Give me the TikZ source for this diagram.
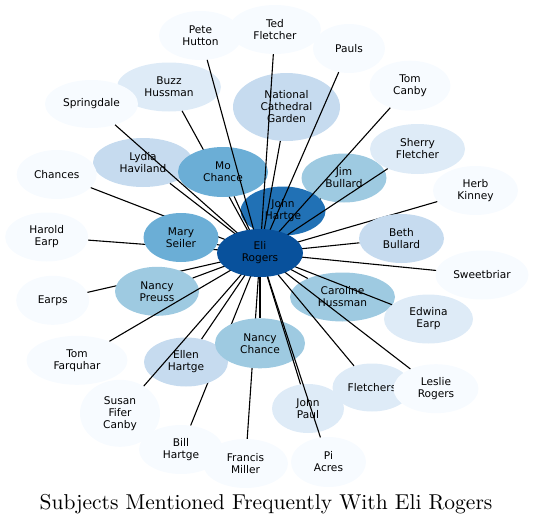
\documentclass[tikz,border=0pt]{standalone}
\usepackage{fontspec}
\newfontfamily\dejavu{DejaVu Sans}
\newfontfamily\titlefont{lmroman10-regular.otf}
\usetikzlibrary{shapes.geometric}
\definecolor{bl0}{HTML}{F7FBFF}
\definecolor{bl1}{HTML}{DEEBF7}
\definecolor{bl2}{HTML}{C6DBEF}
\definecolor{bl3}{HTML}{9ECAE1}
\definecolor{bl4}{HTML}{6BAED6}
\definecolor{bl5}{HTML}{2171B5}
\definecolor{bl6}{HTML}{08519C}

\begin{document}
\begin{tikzpicture}[x=1pt,y=-1pt,
  subj/.style={ellipse, inner sep=0pt, align=center, minimum height=49pt,
    font=\dejavu\fontsize{10.6}{12}\selectfont},
  tie/.style={black, line width=1.1pt}]
  \useasboundingbox (0,0) rectangle (533,525);
  %centre of the star
  \coordinate (hub) at (260,253);
  %upper right
  \node[subj, fill=bl3, minimum width=85pt] (jbullard) at (344,178) {Jim\\Bullard};
  \draw[tie] (hub) -- (jbullard);
  \node[subj, fill=bl5, minimum width=85pt] (jhartge) at (283,211) {John\\Hartge};
  \draw[tie] (hub) -- (jhartge);
  %upper left
  \node[subj, fill=bl2, minimum width=100pt] (lydia) at (143,162.5) {Lydia\\Haviland};
  \draw[tie] (hub) -- (lydia);
  \node[subj, fill=bl1, minimum width=104pt] (buzz) at (169,87) {Buzz\\Hussman};
  \draw[tie] (hub) -- (buzz);
  \node[subj, fill=bl4, minimum width=90pt, minimum height=50pt] (mochance) at (223,172) {Mo\\Chance};
  \draw[tie] (hub) -- (mochance);
  %top row
  \node[subj, fill=bl2, minimum width=107pt, minimum height=68pt] (ncg) at (286.5,107) {National\\Cathedral\\Garden};
  \draw[tie] (hub) -- (ncg);
  \node[subj, fill=bl0, minimum width=83pt] (pete) at (200.5,35.5) {Pete\\Hutton};
  \draw[tie] (hub) -- (pete);
  \node[subj, fill=bl0, minimum width=92pt] (ted) at (275,29.5) {Ted\\Fletcher};
  \draw[tie] (hub) -- (ted);
  \node[subj, fill=bl0, minimum width=72pt] (pauls) at (349,48.5) {Pauls};
  \draw[tie] (hub) -- (pauls);
  \node[subj, fill=bl0, minimum width=81pt, minimum height=50pt] (tcanby) at (410,85.7) {Tom\\Canby};
  \draw[tie] (hub) -- (tcanby);
  \node[subj, fill=bl1, minimum width=95pt, minimum height=50pt] (sherry) at (417.5,149) {Sherry\\Fletcher};
  \draw[tie] (hub) -- (sherry);
  %right side
  \node[subj, fill=bl0, minimum width=85pt] (herb) at (475.5,190.5) {Herb\\Kinney};
  \draw[tie] (hub) -- (herb);
  \node[subj, fill=bl2, minimum width=85pt] (beth) at (401.5,238.5) {Beth\\Bullard};
  \draw[tie] (hub) -- (beth);
  \node[subj, fill=bl0, minimum width=93pt] (sweet) at (482,275) {Sweetbriar};
  \draw[tie] (hub) -- (sweet);
  \node[subj, fill=bl3, minimum width=105pt] (caroline) at (342.5,297) {Caroline\\Hussman};
  \draw[tie] (hub) -- (caroline);
  \node[subj, fill=bl1, minimum width=89pt] (edwina) at (428.5,319) {Edwina\\Earp};
  \draw[tie] (hub) -- (edwina);
  \node[subj, fill=bl1, minimum width=79pt, minimum height=48pt] (fletchers) at (372,387.5) {Fletchers};
  \draw[tie] (hub) -- (fletchers);
  \node[subj, fill=bl0, minimum width=85pt] (leslie) at (436,388.7) {Leslie\\Rogers};
  \draw[tie] (hub) -- (leslie);
  %bottom
  \node[subj, fill=bl0, minimum width=84pt] (bill) at (181,449.5) {Bill\\Hartge};
  \draw[tie] (hub) -- (bill);
  \node[subj, fill=bl2, minimum width=84pt] (ellen) at (186,362) {Ellen\\Hartge};
  \draw[tie] (hub) -- (ellen);
  \node[subj, fill=bl0, minimum width=80pt, minimum height=67pt] (susan) at (120,413.3) {Susan\\Fifer\\Canby};
  \draw[tie] (hub) -- (susan);
  \node[subj, fill=bl0, minimum width=85pt] (francis) at (245.5,463.5) {Francis\\Miller};
  \draw[tie] (hub) -- (francis);
  \node[subj, fill=bl3, minimum width=90pt, minimum height=50pt] (nchance) at (260,343.3) {Nancy\\Chance};
  \draw[tie] (hub) -- (nchance);
  \node[subj, fill=bl1, minimum width=72pt] (jpaul) at (308,408.5) {John\\Paul};
  \draw[tie] (hub) -- (jpaul);
  \node[subj, fill=bl0, minimum width=75pt, minimum height=50pt] (pi) at (328.5,462) {Pi\\Acres};
  \draw[tie] (hub) -- (pi);
  %left side
  \node[subj, fill=bl0, minimum width=73pt] (earps) at (52.7,300.3) {Earps};
  \draw[tie] (hub) -- (earps);
  \node[subj, fill=bl3, minimum width=84pt] (preuss) at (157,291.3) {Nancy\\Preuss};
  \draw[tie] (hub) -- (preuss);
  \node[subj, fill=bl0, minimum width=101pt] (farquhar) at (77,360.3) {Tom\\Farquhar};
  \draw[tie] (hub) -- (farquhar);
  \node[subj, fill=bl0, minimum width=83pt] (harold) at (46.7,237) {Harold\\Earp};
  \draw[tie] (hub) -- (harold);
  \node[subj, fill=bl0, minimum width=80pt] (chances) at (56.7,174.5) {Chances};
  \draw[tie] (hub) -- (chances);
  \node[subj, fill=bl4, minimum width=75pt] (mary) at (181,237.5) {Mary\\Seiler};
  \draw[tie] (hub) -- (mary);
  \node[subj, fill=bl0, minimum width=93pt, minimum height=48pt] (spring) at (91.5,104) {Springdale};
  \draw[tie] (hub) -- (spring);
  %the subject himself, on top
  \node[subj, fill=bl6, minimum width=86pt, minimum height=48pt] (eli) at (hub) {Eli\\Rogers};
  %insert title
  \node[anchor=base, font=\titlefont\fontsize{21.5}{25}\selectfont] (title) at (266,509.5) {Subjects Mentioned Frequently With Eli Rogers};
\end{tikzpicture}
\end{document}
